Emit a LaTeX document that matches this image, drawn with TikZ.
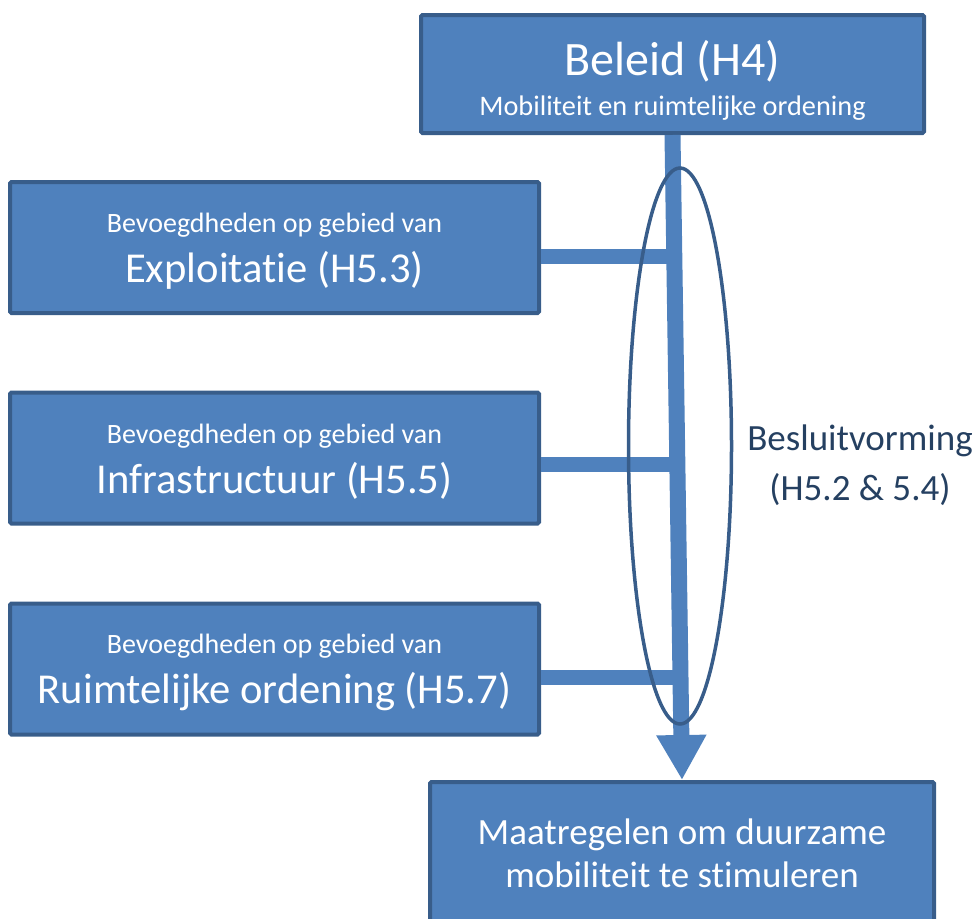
\documentclass[tikz,border=0pt]{standalone}
\usepackage{fontspec}
\setmainfont{Carlito}[Ligatures={NoCommon,NoRequired}]
\usetikzlibrary{arrows.meta,shapes.geometric}
\definecolor{blokvul}{HTML}{4F81BD}
\definecolor{bloklijn}{HTML}{385D8A}
\definecolor{labeltekst}{HTML}{254061}

\tikzset{
	blok/.style={draw=bloklijn, fill=blokvul, line width=4pt, rounded corners=1.5pt,
		text=white, align=center, inner sep=0pt},
	zijblok/.style={blok, minimum width=529pt, minimum height=131pt,
		font=\fontsize{28}{50}\selectfont},
	koppeling/.style={draw=blokvul, line width=15pt},
	schacht/.style={draw=blokvul, line width=16pt, -{Triangle[width=47pt,length=45pt]}},
}
\newcommand{\grootregel}[1]{{\fontsize{42.6}{50}\selectfont #1}}

\begin{document}
\begin{tikzpicture}[x=1pt, y=-1pt]
		\useasboundingbox (0,0) rectangle (976,918);

		\node[blok, minimum width=503pt, minimum height=118pt, font=\fontsize{28.3}{40}\selectfont] (beleid) at (672.5,74)
			{\rule{0pt}{47pt}{\fontsize{48}{50}\selectfont Beleid (H4)}\\Mobiliteit en ruimtelijke ordening};

		\node[zijblok] (exploitatie) at (274.5,247.5)
			{\rule{0pt}{27pt}Bevoegdheden op gebied van\\\grootregel{Exploitatie (H5.3)}};
		\node[zijblok] (infra) at (274.5,458)
			{\rule{0pt}{27pt}Bevoegdheden op gebied van\\\grootregel{Infrastructuur (H5.5)}};
		\node[zijblok] (ro) at (274.5,669)
			{\rule{0pt}{27pt}Bevoegdheden op gebied van\\\grootregel{Ruimtelijke ordening (H5.7)}};

		\node[blok, minimum width=504pt, minimum height=143pt, font=\fontsize{37}{43}\selectfont] (maatregelen) at (682,853.5)
			{Maatregelen om duurzame\\mobiliteit te stimuleren};

		\draw[koppeling] ([yshift=-9pt]exploitatie.east) -- ([yshift=-9pt]exploitatie.east -| beleid.south);
		\draw[koppeling] ([yshift=-6pt]infra.east) -- ([yshift=-6pt]infra.east -| beleid.south);
		\draw[koppeling] ([yshift=-8pt]ro.east) -- ([yshift=-8pt]ro.east -| beleid.south);

		\draw[schacht] (beleid.south) -- (maatregelen.north);

		\node[draw=bloklijn, line width=3.5pt, ellipse, inner sep=0pt, minimum width=103pt, minimum height=556pt] (besluit) at (680,446) {};
		\node[text=labeltekst, align=center, font=\fontsize{37}{50}\selectfont] (besluittekst) at (860,465)
			{Besluitvorming\\(H5.2 \& 5.4)};
	\end{tikzpicture}
\end{document}
